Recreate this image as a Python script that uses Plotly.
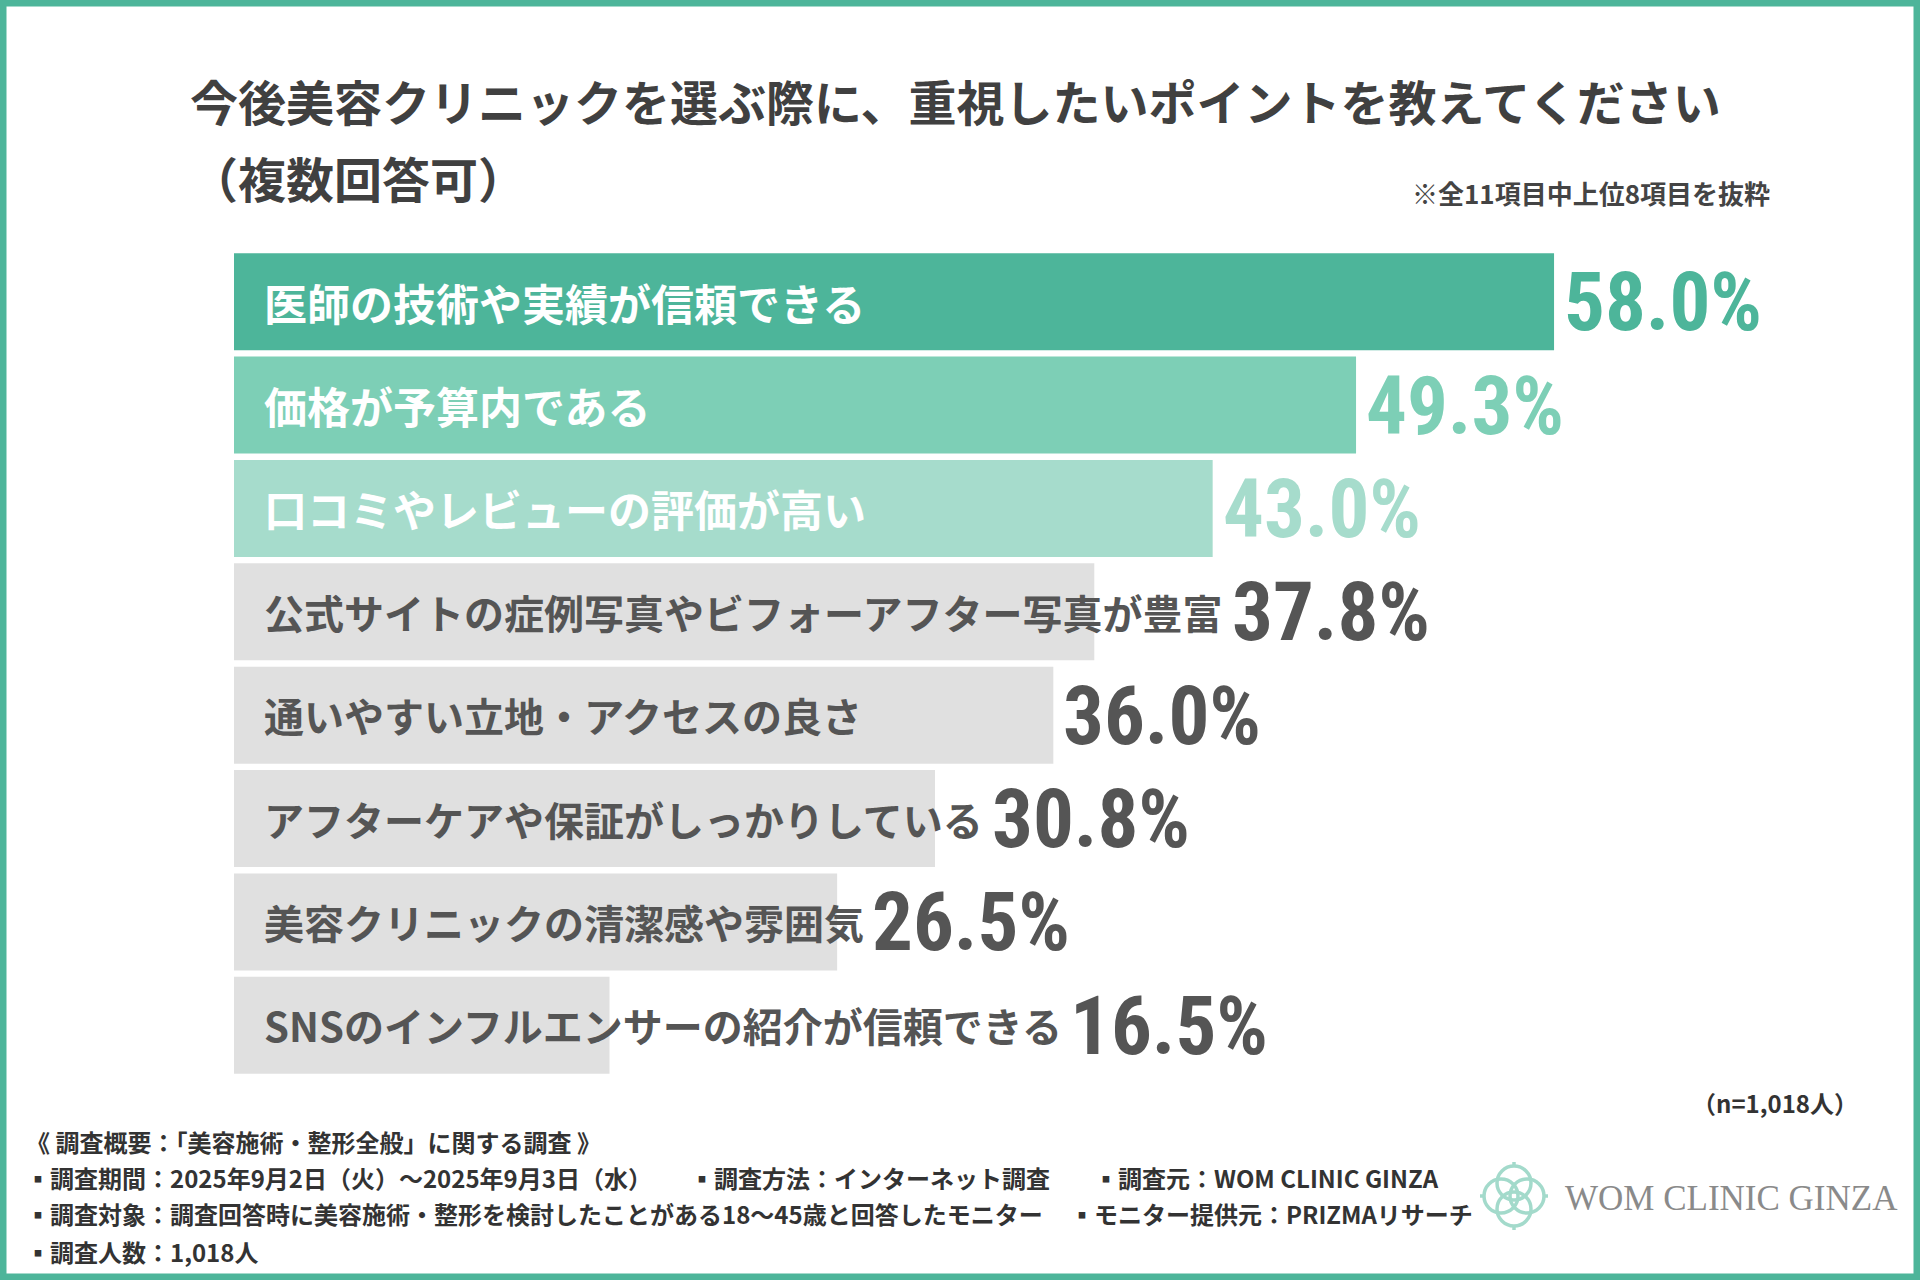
import plotly.graph_objects as go

# ---------------- data ----------------
categories = [
    "医師の技術や実績が信頼できる",
    "価格が予算内である",
    "口コミやレビューの評価が高い",
    "公式サイトの症例写真やビフォーアフター写真が豊富",
    "通いやすい立地・アクセスの良さ",
    "アフターケアや保証がしっかりしている",
    "美容クリニックの清潔感や雰囲気",
    "SNSのインフルエンサーの紹介が信頼できる",
]
values = [58.0, 49.3, 43.0, 37.8, 36.0, 30.8, 26.5, 16.5]

title_line1 = "今後美容クリニックを選ぶ際に、重視したいポイントを教えてください"
title_line2 = "（複数回答可）"
note_text = "※全11項目中上位8項目を抜粋"
sample_text = "（n=1,018人）"
footer_heading = "《 調査概要：「美容施術・整形全般」に関する調査 》"
footer_period = "▪調査期間：2025年9月2日（火）～2025年9月3日（水）"
footer_method = "▪調査方法：インターネット調査"
footer_source = "▪調査元：WOM CLINIC GINZA"
footer_target = "▪調査対象：調査回答時に美容施術・整形を検討したことがある18～45歳と回答したモニター"
footer_panel = "▪モニター提供元：PRIZMAリサーチ"
footer_count = "▪調査人数：1,018人"
logo_text = "WOM CLINIC GINZA"

# ---------------- style ----------------
TEAL = "#4DB59A"
bar_colors = ["#4DB59A", "#7DCFB6", "#A6DCCC"] + ["#E0E0E0"] * 5
label_colors = ["#FFFFFF"] * 3 + ["#555555"] * 5
value_colors = ["#4DB59A", "#7DCFB6", "#A6DCCC"] + ["#555555"] * 5
label_sizes = [43] * 3 + [40] * 5

W, H = 1920, 1280
ML, MR, MT, MB = 234, 20, 250, 203
PW, PH = W - ML - MR, H - MT - MB
XMAX = 73.2
PPU = PW / XMAX

JP = "Noto Sans CJK JP, Noto Sans, sans-serif"
NUM = "Roboto Condensed, Liberation Sans Narrow, DejaVu Sans Condensed, Roboto, sans-serif"


def px(x):
    return (x - ML) / PW


def py(y):
    return 1 - (y - MT) / PH


def text_w(s, size):
    return sum(size * (0.65 if ord(c) < 128 else 1.0) for c in s)


fig = go.Figure()
fig.add_trace(go.Bar(
    y=categories, x=values, orientation="h",
    marker=dict(color=bar_colors, line=dict(width=0)),
    hoverinfo="skip", showlegend=False,
))

annotations = []
LABEL_PAD = 28
for i, (cat, v) in enumerate(zip(categories, values)):
    annotations.append(dict(
        x=0, y=cat, xref="x", yref="y", xanchor="left", yanchor="middle",
        xshift=LABEL_PAD, text=cat, showarrow=False,
        font=dict(family=JP, size=label_sizes[i], color=label_colors[i], weight="bold"),
    ))
    label_end = (LABEL_PAD + text_w(cat, label_sizes[i])) / PPU
    xv = max(v, label_end)
    annotations.append(dict(
        x=xv, y=cat, xref="x", yref="y", xanchor="left", yanchor="middle",
        xshift=8, yshift=-1, text=f"{v:.1f}%", showarrow=False,
        font=dict(family=NUM, size=81, color=value_colors[i], weight="bold"),
    ))


def ptext(text, x, y, size, color="#333333", anchor="left", family=JP, weight="bold"):
    annotations.append(dict(
        x=px(x), y=py(y), xref="paper", yref="paper", xanchor=anchor, yanchor="middle",
        text=text, showarrow=False,
        font=dict(family=family, size=size, color=color, weight=weight),
    ))


ptext(title_line1, 188, 100, 48, "#404040")
ptext(title_line2, 188, 177, 48, "#404040")
ptext(note_text, 1772, 192, 26, "#444444", anchor="right")
ptext(sample_text, 1860, 1102, 24, "#333333", anchor="right")
ptext(footer_heading, 24, 1141, 24)
ptext(footer_period, 24, 1177, 24)
ptext(footer_method, 688, 1177, 24)
ptext(footer_source, 1092, 1177, 24)
ptext(footer_target, 24, 1213, 24)
ptext(footer_panel, 1068, 1213, 24)
ptext(footer_count, 24, 1251, 24)
ptext(logo_text, 1563, 1198, 35, "#8A8A8A", family="Liberation Serif, DejaVu Serif, serif", weight="normal")

shapes = []
# frame
shapes.append(dict(type="rect", xref="paper", yref="paper",
                   x0=px(3), x1=px(W - 3), y0=py(3), y1=py(H - 3),
                   line=dict(color=TEAL, width=7), fillcolor="rgba(0,0,0,0)", layer="above"))
# logo motif: four overlapping rings
cx, cy, d, r = 1514, 1196, 13, 17
LOGO = "#A3DACB"
for dx, dy in [(0, -d), (0, d), (-d, 0), (d, 0)]:
    shapes.append(dict(type="circle", xref="paper", yref="paper",
                       x0=px(cx + dx - r), x1=px(cx + dx + r),
                       y0=py(cy + dy - r), y1=py(cy + dy + r),
                       line=dict(color=LOGO, width=3.5)))
for dx, dy in [(0, -1), (0, 1), (-1, 0), (1, 0)]:
    a = d + r
    shapes.append(dict(type="line", xref="paper", yref="paper",
                       x0=px(cx + dx * a), x1=px(cx + dx * (a + 4)),
                       y0=py(cy + dy * a), y1=py(cy + dy * (a + 4)),
                       line=dict(color=LOGO, width=3.5)))

fig.update_layout(
    width=W, height=H,
    margin=dict(l=ML, r=MR, t=MT, b=MB, pad=0),
    paper_bgcolor="white", plot_bgcolor="white",
    bargap=0.062,
    xaxis=dict(range=[0, XMAX], visible=False, fixedrange=True),
    yaxis=dict(autorange=False, range=[len(categories) - 0.5, -0.5], visible=False,
               categoryorder="array", categoryarray=categories, fixedrange=True),
    annotations=annotations, shapes=shapes,
    font=dict(family=JP),
)

fig.write_html(
    "out.html",
    config={"displayModeBar": False},
    post_script="document.body.style.margin='0';document.body.style.overflow='hidden';",
)
